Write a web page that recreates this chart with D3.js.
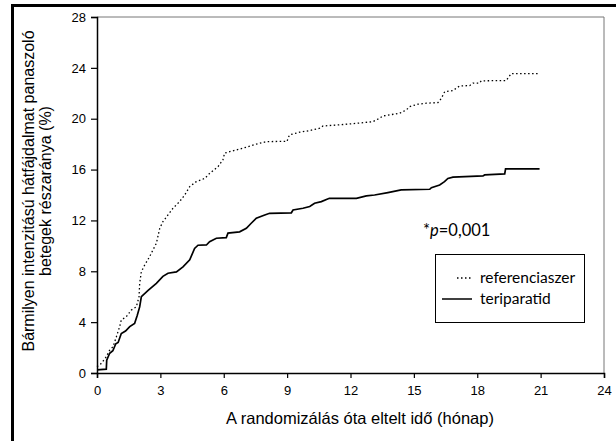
<!DOCTYPE html>
<html>
<head>
<meta charset="utf-8">
<script src="https://cdn.jsdelivr.net/npm/d3@7"></script>
<style>
  body { margin: 0; background: #fff; }
  svg { display: block; }
  .tick text { font-family: "Liberation Sans", Arial, sans-serif; font-size: 13px; fill: #000; }
  .title { font-family: "Liberation Sans", Arial, sans-serif; font-size: 16.5px; fill: #000; }
  .ytitle { font-family: "Liberation Sans", Arial, sans-serif; font-size: 16px; fill: #000; }
  .note { font-family: "Lato", sans-serif; font-size: 15.5px; fill: #000; }
</style>
</head>
<body>
<div id="chart"></div>
<script>
"use strict";

// months since randomisation / cumulative % with back pain
const refTime = [0, 0.21, 0.44, 0.6, 0.76, 0.92, 1.07, 1.15, 1.39, 1.63, 1.86, 1.99, 2.02, 2.1, 2.26, 2.49, 2.65, 2.81, 2.97, 3.12, 3.36, 3.6, 3.91, 4.15, 4.39, 4.7, 5.1, 5.33, 5.73, 5.96, 6.04, 6.28, 6.91, 7.54, 8.02, 9.0, 9.04, 9.12, 9.59, 10.07, 10.54, 10.7, 11.33, 11.96, 12.67, 13.06, 13.38, 13.54, 14.33, 14.64, 14.8, 15.19, 15.59, 16.14, 16.3, 16.46, 16.85, 17.08, 17.17, 17.64, 17.8, 18.1, 18.19, 19.37, 19.5, 19.61, 20.87];
const refValue = [0.5, 0.76, 1.28, 1.8, 2.07, 2.86, 3.64, 4.17, 4.43, 4.96, 5.2, 6.0, 7.05, 7.97, 8.5, 9.15, 9.68, 10.2, 11.38, 11.9, 12.43, 12.96, 13.48, 14.0, 14.66, 15.05, 15.3, 15.7, 16.23, 16.76, 17.29, 17.41, 17.68, 18.0, 18.2, 18.22, 18.47, 18.73, 18.94, 19.07, 19.25, 19.43, 19.5, 19.59, 19.7, 19.77, 20.04, 20.22, 20.43, 20.69, 20.95, 21.14, 21.22, 21.27, 21.6, 22.13, 22.21, 22.48, 22.58, 22.6, 22.8, 22.8, 22.98, 23.0, 23.3, 23.55, 23.55];

const terTime = [0, 0.44, 0.46, 0.6, 0.75, 0.89, 1.0, 1.15, 1.35, 1.55, 1.78, 1.9, 2.02, 2.1, 2.42, 2.81, 3.12, 3.36, 3.76, 4.07, 4.39, 4.62, 4.78, 5.18, 5.33, 5.65, 6.12, 6.2, 6.75, 7.07, 7.3, 7.54, 7.94, 8.17, 9.2, 9.28, 9.75, 10.07, 10.3, 10.62, 11.0, 12.28, 12.75, 13.14, 13.77, 14.4, 15.75, 15.83, 16.22, 16.45, 16.61, 16.85, 18.27, 18.35, 19.3, 19.34, 20.95];
const terValue = [0.25, 0.3, 1.0, 1.55, 1.75, 2.3, 2.4, 3.1, 3.3, 3.65, 3.9, 4.5, 5.2, 6.0, 6.5, 7.05, 7.6, 7.85, 7.95, 8.35, 8.9, 9.8, 10.05, 10.07, 10.33, 10.6, 10.65, 11.0, 11.1, 11.38, 11.78, 12.17, 12.43, 12.56, 12.6, 12.82, 12.96, 13.09, 13.35, 13.48, 13.74, 13.74, 13.93, 14.0, 14.19, 14.4, 14.45, 14.58, 14.79, 15.05, 15.3, 15.4, 15.5, 15.58, 15.66, 16.05, 16.05];

const xTicks = [0, 3, 6, 9, 12, 15, 18, 21, 24];
const yTicks = [0, 4, 8, 12, 16, 20, 24, 28];

const seriesNames = ["referenciaszer", "teriparatid"];

const width = 616, height = 441;
const plotLeft = 97, plotRight = 604, plotTop = 17, plotBottom = 373;

const svg = d3.select("#chart").append("svg")
    .attr("width", width)
    .attr("height", height);

// thick outer frame (only top/left fall inside the picture)
svg.append("rect")
    .attr("x", 12.5).attr("y", 5.5)
    .attr("width", 640).attr("height", 470)
    .attr("fill", "none")
    .attr("stroke", "#000")
    .attr("stroke-width", 3);

const x = d3.scaleLinear().domain([0, 24]).range([plotLeft, plotRight]);
const y = d3.scaleLinear().domain([0, 28]).range([plotBottom, plotTop]);

// grey top/right border of the plot area
svg.append("path")
    .attr("d", `M${plotLeft},${plotTop}H${plotRight}V${plotBottom}`)
    .attr("fill", "none")
    .attr("stroke", "#777")
    .attr("stroke-width", 1);

const xAxis = svg.append("g")
    .attr("transform", `translate(0,${plotBottom})`)
    .call(d3.axisBottom(x).tickValues(xTicks).tickSize(5).tickPadding(8));
const yAxis = svg.append("g")
    .attr("transform", `translate(${plotLeft},0)`)
    .call(d3.axisLeft(y).tickValues(yTicks).tickSize(6).tickPadding(5));

[xAxis, yAxis].forEach(g => {
    g.select(".domain").attr("stroke", "#000").attr("stroke-width", 1.5);
    g.selectAll(".tick line").attr("stroke", "#000").attr("stroke-width", 1.2);
});

const line = d3.line()
    .x(d => x(d[0]))
    .y(d => y(d[1]));

const refData = refTime.map((t, i) => [t, refValue[i]]);
const terData = terTime.map((t, i) => [t, terValue[i]]);

svg.append("path")
    .datum(refData)
    .attr("d", line)
    .attr("fill", "none")
    .attr("stroke", "#000")
    .attr("stroke-width", 1.3)
    .attr("stroke-dasharray", "1.5,2.5");

svg.append("path")
    .datum(terData)
    .attr("d", line)
    .attr("fill", "none")
    .attr("stroke", "#000")
    .attr("stroke-width", 1.7);

// axis titles
svg.append("text")
    .attr("class", "title")
    .attr("x", 360).attr("y", 424)
    .attr("text-anchor", "middle")
    .text("A randomizálás óta eltelt idő (hónap)");

const yTitle = svg.append("text")
    .attr("class", "ytitle")
    .attr("transform", "translate(34,191) rotate(-90)")
    .attr("text-anchor", "middle");
yTitle.append("tspan").attr("x", 0).attr("y", 0).text("Bármilyen intenzitású hátfájdalmat panaszoló");
yTitle.append("tspan").attr("x", 0).attr("y", 17).text("betegek részaránya (%)");

// p-value note
const note = svg.append("text")
    .attr("class", "note")
    .style("font-size", "16.5px")
    .attr("x", 423).attr("y", 236);
note.append("tspan").text("*");
note.append("tspan").style("font-style", "italic").text("p");
note.append("tspan").text("=0,001");

// legend
const legend = svg.append("g");
legend.append("rect")
    .attr("x", 435.5).attr("y", 254.5)
    .attr("width", 149).attr("height", 68)
    .attr("fill", "#fff")
    .attr("stroke", "#000")
    .attr("stroke-width", 1);

const legendRows = [
    { name: seriesNames[0], y: 278, x1: 457, dash: "1.5,2.5", w: 1.3 },
    { name: seriesNames[1], y: 299, x1: 442, dash: null, w: 1.5 }
];
legendRows.forEach(r => {
    legend.append("line")
        .attr("x1", r.x1).attr("x2", 472)
        .attr("y1", r.y).attr("y2", r.y)
        .attr("stroke", "#000")
        .attr("stroke-width", r.w)
        .attr("stroke-dasharray", r.dash);
    legend.append("text")
        .attr("class", "note")
        .attr("x", 480).attr("y", r.y + 5)
        .text(r.name);
});
</script>
</body>
</html>
